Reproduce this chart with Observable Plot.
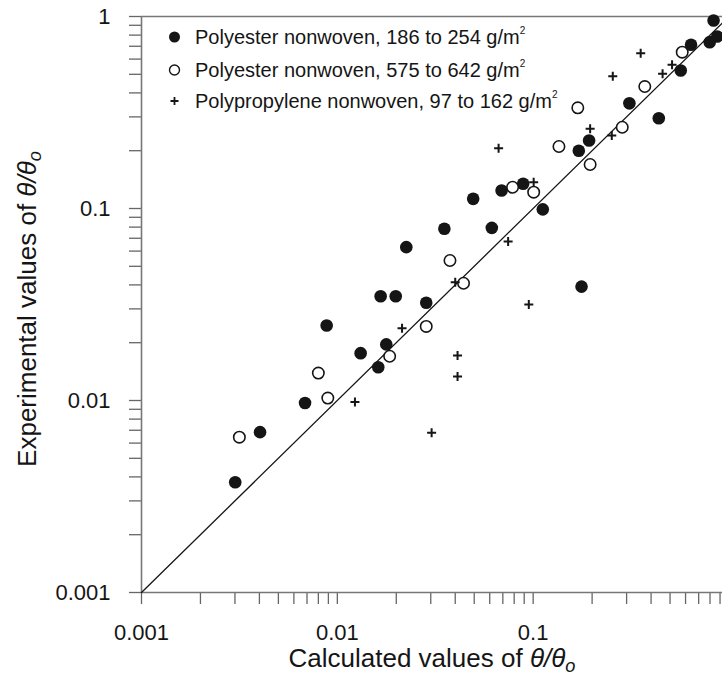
<!DOCTYPE html>
<html><head><meta charset="utf-8">
<script src="https://cdn.jsdelivr.net/npm/d3@7"></script>
<script src="https://cdn.jsdelivr.net/npm/@observablehq/plot@0.6"></script>
<style>
html,body{margin:0;padding:0;background:#fff;}
#chart svg{display:block;}
</style></head><body><div id="chart"></div>
<script>
// ---- data ----
const seriesNames = [
  "Polyester nonwoven, 186 to 254 g/m",
  "Polyester nonwoven, 575 to 642 g/m",
  "Polypropylene nonwoven, 97 to 162 g/m"
];
const filledX = [0.834,0.871,0.797,0.640,0.567,0.310,0.438,0.193,0.171,0.0889,0.0690,0.0494,0.112,0.0352,0.0615,0.0225,0.1766,0.01664,0.01987,0.02844,0.00882,0.01315,0.01778,0.01618,0.00684,0.00403,0.00301];
const filledY = [0.953,0.787,0.735,0.712,0.523,0.353,0.295,0.226,0.200,0.1345,0.124,0.1123,0.099,0.0784,0.0793,0.0629,0.0392,0.0349,0.0349,0.0323,0.0246,0.01764,0.0196,0.0149,0.0097,0.00684,0.00375];
const openX = [0.577,0.3715,0.169,0.285,0.1354,0.1954,0.0785,0.1006,0.0376,0.0441,0.02844,0.0185,0.0080,0.00894,0.00316];
const openY = [0.652,0.4318,0.3345,0.265,0.2103,0.1695,0.129,0.1216,0.0536,0.0408,0.0243,0.0170,0.0139,0.0103,0.00644];
const plusX = [0.354,0.512,0.458,0.255,0.1954,0.252,0.0666,0.1006,0.0745,0.040,0.095,0.0214,0.0411,0.0411,0.0123,0.0303];
const plusY = [0.644,0.560,0.503,0.489,0.260,0.240,0.206,0.137,0.0673,0.0413,0.0316,0.0238,0.01716,0.01334,0.00982,0.00679];
const identityLine = [0.001, 1];
const majorTicks = [0.001, 0.01, 0.1, 1];
const majorLabels = ["0.001", "0.01", "0.1", "1"];
const xTitle = "Calculated values of ";
const yTitle = "Experimental values of ";

// ---- build ----
const zip = (xs, ys) => xs.map((x, i) => ({x, y: ys[i]}));
const filled = zip(filledX, filledY);
const open = zip(openX, openY);
const plus = zip(plusX, plusY);
const mult = [1,2,3,4,5,6,7,8,9];
const yTicks = [0.001, 0.01, 0.1].flatMap(d => mult.map(m => m * d)).concat([1]);
const xTicks = [0.001, 0.01, 0.1].flatMap(d => mult.map(m => m * d));
const fmt = d => { const i = majorTicks.findIndex(m => Math.abs(m - d) / m < 1e-9); return i >= 0 ? majorLabels[i] : ""; };
const plusSymbol = {draw(ctx) { const s = 4.5; ctx.moveTo(-s, 0); ctx.lineTo(s, 0); ctx.moveTo(0, -s); ctx.lineTo(0, s); }};
const FONT = "'Liberation Sans', Arial, Helvetica, sans-serif";
const ink = "#151515";

const chart = Plot.plot({
  width: 722, height: 677,
  marginLeft: 141, marginRight: -6.5, marginTop: 16, marginBottom: 85,
  style: {fontFamily: FONT, fontSize: "21px", color: ink, background: "#fff", overflow: "hidden"},
  x: {type: "log", domain: [0.001, 1]},
  y: {type: "log", domain: [0.001, 1]},
  marks: [
    Plot.axisY({ticks: yTicks, tickFormat: fmt, tickSize: 12, tickPadding: 19, stroke: "#666", strokeWidth: 1.3, fill: ink, fontSize: 22, label: null}),
    Plot.axisX({ticks: xTicks, tickFormat: fmt, tickSize: 12, tickPadding: 20, stroke: "#666", strokeWidth: 1.3, fill: ink, fontSize: 22, label: null}),
    Plot.ruleX([0.001], {stroke: "#777", strokeWidth: 1.6}),
    Plot.ruleY([0.001, 1], {stroke: "#777", strokeWidth: 1.6}),
    Plot.line(identityLine, {x: d => d, y: d => d, stroke: ink, strokeWidth: 1.3}),
    Plot.dot(filled, {x: "x", y: "y", r: 6.3, fill: ink, stroke: "none"}),
    Plot.dot(open, {x: "x", y: "y", r: 5.7, fill: "#fff", stroke: ink, strokeWidth: 1.6}),
    Plot.dot(plus, {x: "x", y: "y", symbol: plusSymbol, fill: "none", stroke: ink, strokeWidth: 2})
  ]
});
document.getElementById("chart").appendChild(chart);

// ---- titles and legend ----
const svg = d3.select(chart);
function thetaLabel(sel, base) {
  sel.append("tspan").text(base);
  sel.append("tspan").attr("font-style", "italic").text("θ/θ");
  sel.append("tspan").attr("font-style", "italic").attr("font-size", "0.7em").attr("dy", "0.3em").text("o");
}
const xt = svg.append("text").attr("x", 432).attr("y", 667).attr("text-anchor", "middle")
  .attr("font-family", FONT).attr("font-size", 26).attr("fill", ink);
thetaLabel(xt, xTitle);
const yt = svg.append("text").attr("transform", "translate(36,309) rotate(-90)").attr("text-anchor", "middle")
  .attr("font-family", FONT).attr("font-size", 26).attr("fill", ink);
thetaLabel(yt, yTitle);

const legendY = [37, 70, 101];
const lg = svg.append("g").attr("text-anchor", "start");
seriesNames.forEach((name, i) => {
  const cy = legendY[i];
  if (i === 0) lg.append("circle").attr("cx", 174.5).attr("cy", cy).attr("r", 5.5).attr("fill", ink);
  if (i === 1) lg.append("circle").attr("cx", 174.5).attr("cy", cy).attr("r", 5).attr("fill", "#fff").attr("stroke", ink).attr("stroke-width", 1.4);
  if (i === 2) lg.append("path").attr("d", `M170.5,${cy}h8M174.5,${cy - 4}v8`).attr("stroke", ink).attr("stroke-width", 1.8);
  const t = lg.append("text").attr("x", 195).attr("y", cy + 7).attr("text-anchor", "start")
    .attr("font-family", FONT).attr("font-size", 20).attr("fill", ink);
  t.append("tspan").text(name);
  t.append("tspan").attr("font-size", 10).attr("dy", -10).text("2");
});
</script></body></html>
